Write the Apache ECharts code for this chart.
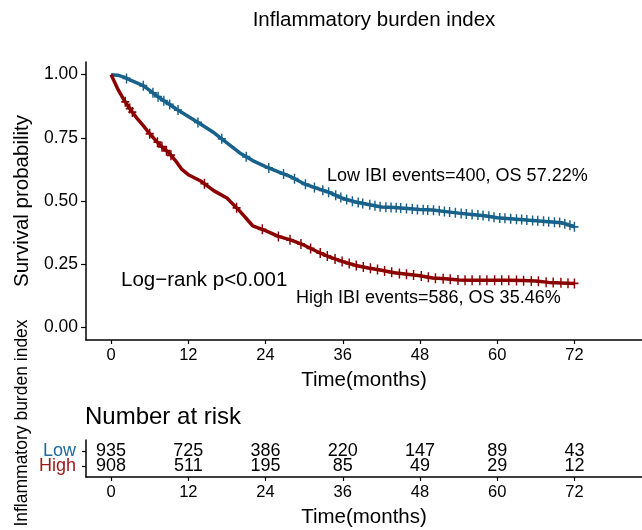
<!DOCTYPE html>
<html>
<head>
<meta charset="utf-8">
<script src="https://cdn.jsdelivr.net/npm/echarts@6/dist/echarts.min.js"></script>
<style>
  html, body { margin: 0; padding: 0; background: #fff; }
  #chart { width: 642px; height: 530px; }
</style>
</head>
<body>
<div id="chart"></div>
<script>
// survival curves (months, probability)
const times = [0, 1, 2, 3, 4, 5, 6, 7, 8, 9, 10, 11, 12, 14, 16, 18, 20, 22, 24, 26, 28, 30,
  32, 34, 36, 38, 40, 42, 44, 46, 48, 50, 52, 54, 56, 58, 60, 62, 64, 66, 68, 70, 72];
const survLow = [1.000, 0.998, 0.990, 0.978, 0.967, 0.956, 0.938, 0.918, 0.900, 0.884, 0.866, 0.850,
  0.834, 0.803, 0.770, 0.730, 0.690, 0.660, 0.636, 0.615, 0.595, 0.568, 0.550, 0.533, 0.510, 0.496,
  0.486, 0.476, 0.474, 0.470, 0.466, 0.464, 0.458, 0.452, 0.447, 0.442, 0.434, 0.430, 0.426, 0.422,
  0.418, 0.414, 0.398];
const survHigh = [1.000, 0.945, 0.900, 0.862, 0.828, 0.798, 0.766, 0.738, 0.712, 0.690, 0.660, 0.625,
  0.604, 0.578, 0.540, 0.512, 0.460, 0.402, 0.383, 0.360, 0.345, 0.325, 0.300, 0.278, 0.260, 0.245,
  0.235, 0.226, 0.216, 0.210, 0.204, 0.195, 0.192, 0.187, 0.186, 0.186, 0.186, 0.186, 0.185, 0.183,
  0.178, 0.176, 0.174];

// censoring times
const censorLow = [2.4, 5.0, 6.5, 7.3, 8.2, 9.1, 10.4, 13.5, 17.2, 21.0, 24.5, 26.8, 28.5, 30.2, 31.6,
  32.9, 33.8, 34.9, 35.7, 36.6, 37.5, 38.4, 39.1, 40.2, 41.0, 41.8, 42.7, 43.5, 44.3, 45.0, 45.9, 46.8,
  47.6, 48.5, 49.2, 50.1, 51.0, 51.8, 52.6, 53.5, 54.4, 55.2, 56.1, 57.0, 57.8, 58.7, 59.5, 60.4, 61.2,
  62.1, 63.0, 63.8, 64.6, 65.5, 66.3, 67.2, 68.0, 68.9, 69.7, 70.5, 71.3, 72.0];
const censorHigh = [2.2, 2.9, 3.3, 6.0, 7.2, 7.9, 8.6, 9.3, 14.5, 19.5, 23.5, 26.0, 27.8, 29.5, 31.0,
  32.5, 33.6, 34.8, 35.9, 37.0, 38.1, 39.2, 40.3, 41.4, 42.5, 43.6, 44.8, 45.9, 47.0, 48.2, 49.3, 50.4,
  51.6, 52.7, 53.9, 55.0, 56.1, 57.3, 58.4, 59.6, 60.7, 61.8, 63.0, 64.1, 65.3, 66.4, 67.6, 68.7, 69.9,
  71.0, 72.0];

// number at risk table
const riskTimes = [0, 12, 24, 36, 48, 60, 72];
const riskLow = [935, 725, 386, 220, 147, 89, 43];
const riskHigh = [908, 511, 195, 85, 49, 29, 12];
const riskGroups = ['High', 'Low'];

const xTicks = [0, 12, 24, 36, 48, 60, 72];
const yTicks = [0, 0.25, 0.5, 0.75, 1];

const BLUE = '#17618A';
const RED = '#8B0000';
const FONT = 'Liberation Sans';

// y of curve at time t (on the drawn line)
function curveAt(surv, t) {
  for (let i = 1; i < times.length; i++) {
    if (t <= times[i]) {
      const f = (t - times[i - 1]) / (times[i] - times[i - 1]);
      return surv[i - 1] + f * (surv[i] - surv[i - 1]);
    }
  }
  return surv[surv.length - 1];
}

const plus = 'path://M4.1,0h1.8v10h-1.8zM0,4.1h10v1.8h-10z';
const xMin = -3.9, xMax = 82.5;

function xAxisCfg(gridIndex) {
  return {
    type: 'value', gridIndex: gridIndex, min: xMin, max: xMax,
    name: 'Time(months)', nameLocation: 'middle', nameGap: 30,
    nameTextStyle: { fontFamily: FONT, fontSize: 20.5, color: '#000' },
    axisLine: { onZero: false, lineStyle: { color: '#000', width: 1.5 } },
    axisTick: { customValues: xTicks, length: 4, lineStyle: { color: '#000', width: 1.2 } },
    axisLabel: { customValues: xTicks, margin: 7, fontFamily: FONT, fontSize: 16.5, color: '#000' },
    splitLine: { show: false }
  };
}

function tableLabels(values, yPos) {
  return {
    type: 'scatter', xAxisIndex: 1, yAxisIndex: 1, symbolSize: 0,
    itemStyle: { opacity: 1 },
    label: { show: true, position: 'inside', formatter: p => p.value[2], opacity: 1,
      fontFamily: FONT, fontSize: 18, color: '#000' },
    data: riskTimes.map((t, i) => [t, yPos, values[i]])
  };
}

const chart = echarts.init(document.getElementById('chart'));
chart.setOption({
  animation: false,
  grid: [
    { left: 86, right: 0, top: 62, height: 278 },
    { left: 86, right: 0, top: 440, height: 37 }
  ],
  xAxis: [xAxisCfg(0), xAxisCfg(1)],
  yAxis: [
    {
      type: 'value', gridIndex: 0, min: -0.05, max: 1.05,
      name: 'Survival probability', nameLocation: 'middle', nameGap: 46,
      nameTextStyle: { fontFamily: FONT, fontSize: 20.5, color: '#000' },
      axisLine: { show: true, onZero: false, lineStyle: { color: '#000', width: 1.5 } },
      axisTick: { show: true, customValues: yTicks, length: 5, lineStyle: { color: '#000', width: 1.2 } },
      axisLabel: { customValues: yTicks, margin: 8, fontFamily: FONT, fontSize: 17.5, color: '#000',
        formatter: v => v.toFixed(2) },
      splitLine: { show: false }
    },
    {
      type: 'value', gridIndex: 1, min: -0.73, max: 1.73,
      axisLine: { show: true, onZero: false, lineStyle: { color: '#000', width: 1.5 } },
      axisTick: { show: true, customValues: [0, 1], length: 4, lineStyle: { color: '#000', width: 1.2 } },
      axisLabel: { show: false },
      splitLine: { show: false }
    }
  ],
  series: [
    {
      name: 'Low', type: 'line', xAxisIndex: 0, yAxisIndex: 0, symbol: 'none',
      lineStyle: { color: BLUE, width: 3.5 },
      data: times.map((t, i) => [t, survLow[i]])
    },
    {
      name: 'High', type: 'line', xAxisIndex: 0, yAxisIndex: 0, symbol: 'none',
      lineStyle: { color: RED, width: 3.5 },
      data: times.map((t, i) => [t, survHigh[i]])
    },
    {
      type: 'scatter', xAxisIndex: 0, yAxisIndex: 0, symbol: plus, symbolSize: [8, 10],
      itemStyle: { color: BLUE, opacity: 1 },
      data: censorLow.map(t => [t, curveAt(survLow, t)])
    },
    {
      type: 'scatter', xAxisIndex: 0, yAxisIndex: 0, symbol: plus, symbolSize: [8, 10],
      itemStyle: { color: RED, opacity: 1 },
      data: censorHigh.map(t => [t, curveAt(survHigh, t)])
    },
    tableLabels(riskLow, 1),
    tableLabels(riskHigh, 0),
    {
      // group names left of the risk table, placed through the table's axes
      type: 'scatter', xAxisIndex: 1, yAxisIndex: 1, symbolSize: 0,
      itemStyle: { opacity: 1 },
      label: { show: true, position: 'left', distance: 10, formatter: p => riskGroups[p.value[1]],
        fontFamily: FONT, fontSize: 18, opacity: 1 },
      data: [
        { value: [xMin, 1], label: { color: '#1F6A99' } },
        { value: [xMin, 0], label: { color: '#A01A1A' } }
      ]
    }
  ],
  graphic: [
    { type: 'text', x: 374, y: 20, style: { text: 'Inflammatory burden index', fontFamily: FONT,
      fontSize: 20.5, fill: '#000', align: 'center', verticalAlign: 'middle' } },
    { type: 'text', x: 327, y: 176, style: { text: 'Low IBI events=400, OS 57.22%', fontFamily: FONT,
      fontSize: 18, fill: '#000', align: 'left', verticalAlign: 'middle' } },
    { type: 'text', x: 296, y: 298, style: { text: 'High IBI events=586, OS 35.46%', fontFamily: FONT,
      fontSize: 18, fill: '#000', align: 'left', verticalAlign: 'middle' } },
    { type: 'text', x: 121, y: 280, style: { text: 'Log\u2212rank p<0.001', fontFamily: FONT,
      fontSize: 20.5, fill: '#000', align: 'left', verticalAlign: 'middle' } },
    { type: 'text', x: 85, y: 417, style: { text: 'Number at risk', fontFamily: FONT,
      fontSize: 24, fill: '#000', align: 'left', verticalAlign: 'middle' } },
    { type: 'text', x: 22, y: 423, rotation: Math.PI / 2, style: { text: 'Inflammatory burden index',
      fontFamily: FONT, fontSize: 17.5, fill: '#000', align: 'center', verticalAlign: 'middle' } }
  ]
});
</script>
</body>
</html>
